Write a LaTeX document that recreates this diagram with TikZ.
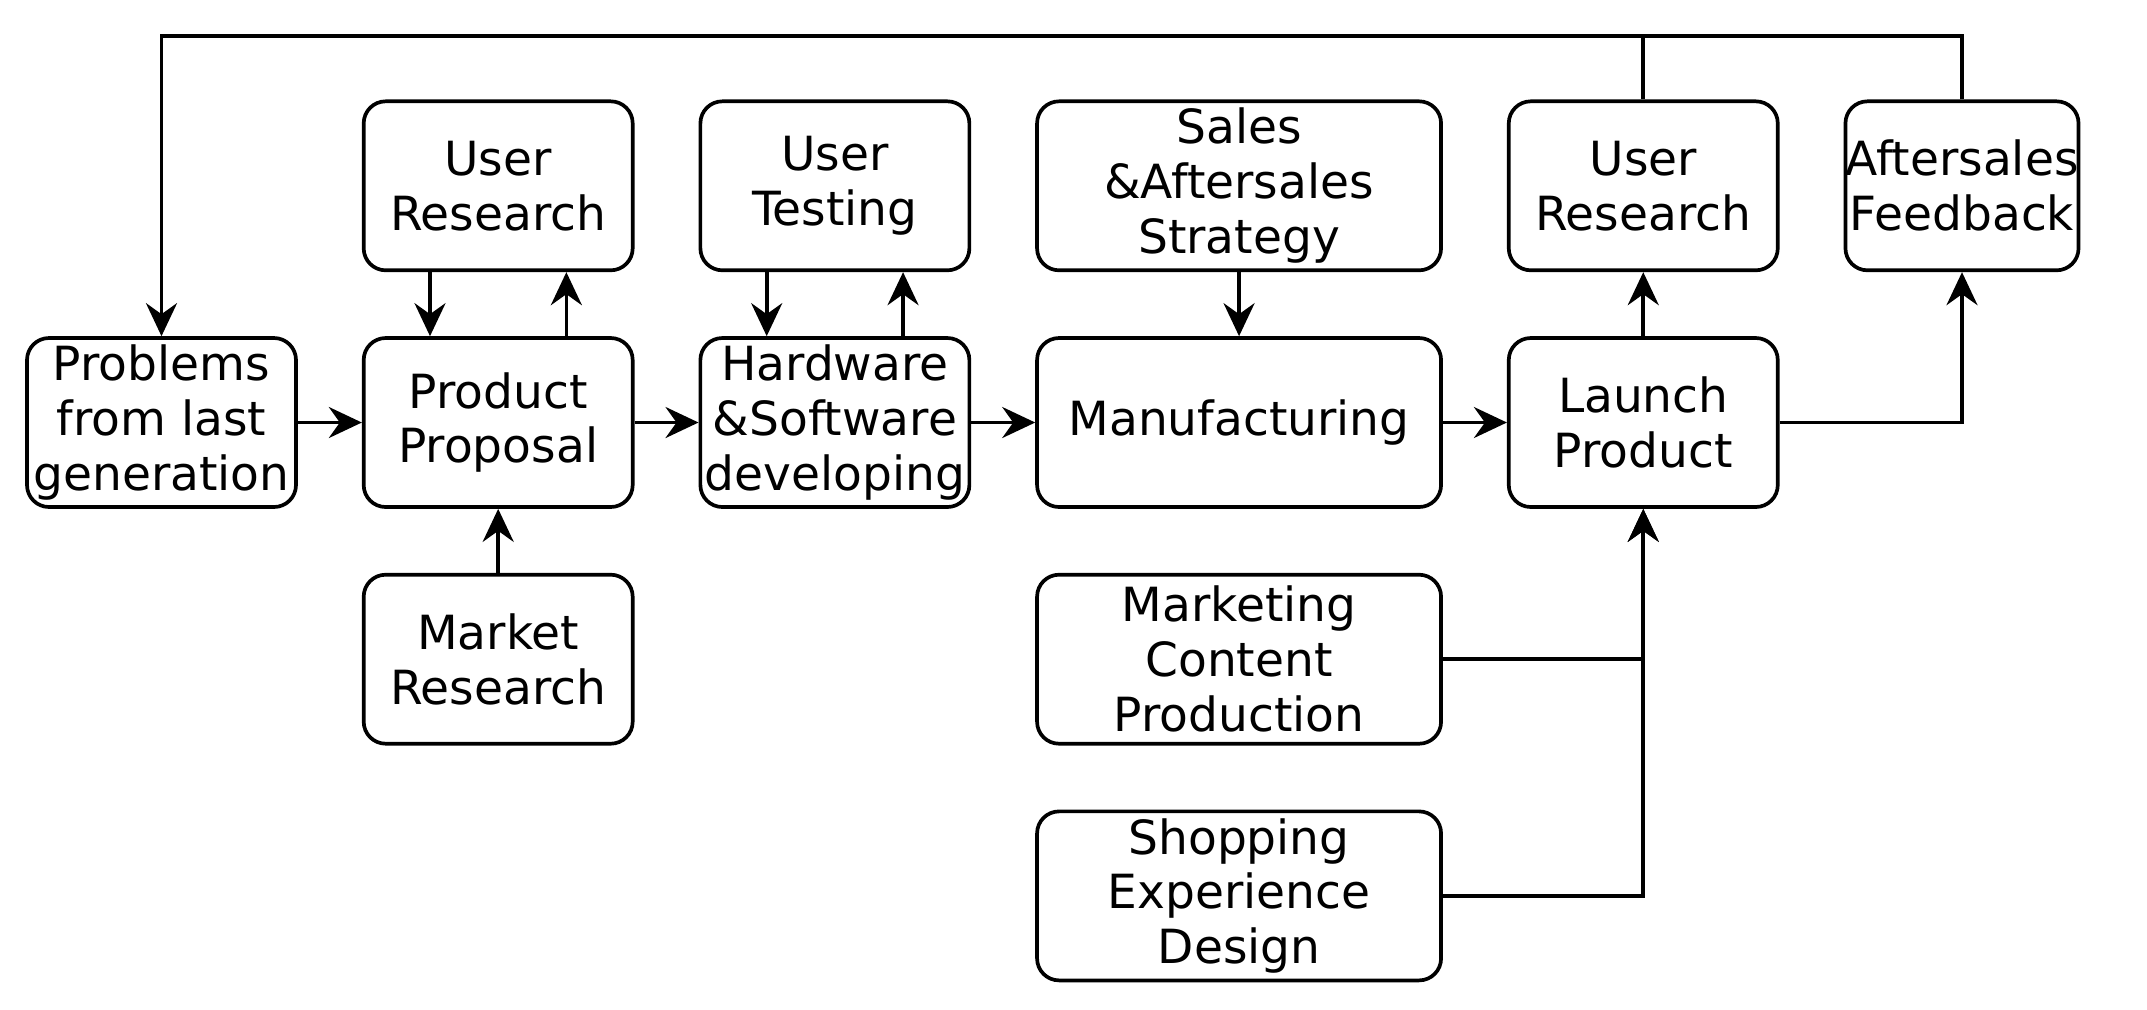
\documentclass[tikz,border=0pt]{standalone}
\usepackage{fontspec}
\setmainfont{DejaVu Sans}
\usepackage{tikz}
\usetikzlibrary{arrows.meta, positioning, calc}

\begin{document}
\begin{tikzpicture}[
  box/.style={draw, line width=1.05pt, rounded corners=0.22cm, minimum height=1.69cm, minimum width=2.69cm, inner sep=0pt, align=center, font=\fontsize{13.4}{15.6}\selectfont},
  widebox/.style={box, minimum width=4.04cm},
  slimbox/.style={box, minimum width=2.31cm},
  arr/.style={-{Stealth[length=3.3mm, width=3.1mm, inset=1.1mm]}, line width=1.05pt},
  link/.style={line width=1.05pt},
  node distance=0.64cm,
]
  \useasboundingbox (0,0) rectangle (21.47,-10.09);

  % main row
  \node[box] (prob) at (1.615,-4.225) {Problems\\from last\\generation};
  \node[box, right=of prob] (prop) {Product\\Proposal};
  \node[box, right=of prop] (hw) {Hardware\\\&Software\\developing};
  \node[widebox, right=of hw] (manu) {Manufacturing};
  \node[box, right=of manu] (launch) {Launch\\Product};

  % inputs and feedback
  \node[box, above=of prop] (ur1) {User\\Research};
  \node[box, below=of prop] (mkt) {Market\\Research};
  \node[box, above=of hw] (ut) {User\\Testing};
  \node[widebox, above=of manu] (sales) {Sales\\\&Aftersales\\Strategy};
  \node[widebox, below=of manu] (mcp) {Marketing\\Content\\Production};
  \node[widebox, below=of mcp] (shop) {Shopping\\Experience\\Design};
  \node[box, above=of launch] (ur2) {User\\Research};
  \node[slimbox, right=of ur2] (afs) {Aftersales\\Feedback};

  \coordinate (fb) at (1.615,-0.36);

  \draw[arr] (prob) -- (prop);
  \draw[arr] (prop) -- (hw);
  \draw[arr] (hw) -- (manu);
  \draw[arr] (manu) -- (launch);

  \draw[arr] ($(ur1.south west)!.25!(ur1.south east)$) -- ($(prop.north west)!.25!(prop.north east)$);
  \draw[arr] ($(prop.north west)!.75!(prop.north east)$) -- ($(ur1.south west)!.75!(ur1.south east)$);
  \draw[arr] ($(ut.south west)!.25!(ut.south east)$) -- ($(hw.north west)!.25!(hw.north east)$);
  \draw[arr] ($(hw.north west)!.75!(hw.north east)$) -- ($(ut.south west)!.75!(ut.south east)$);
  \draw[arr] (mkt) -- (prop);
  \draw[arr] (sales) -- (manu);
  \draw[arr] (launch) -- (ur2);
  \draw[arr] (launch.east) -| (afs.south);
  \draw[arr] (mcp.east) -| (launch.south);
  \draw[arr] (shop.east) -| (launch.south);

  % loop back to the next generation
  \draw[arr] (afs.north) |- (fb) -- (prob.north);
  \draw[link] (ur2.north) -- (ur2.north |- fb);
\end{tikzpicture}
\end{document}
